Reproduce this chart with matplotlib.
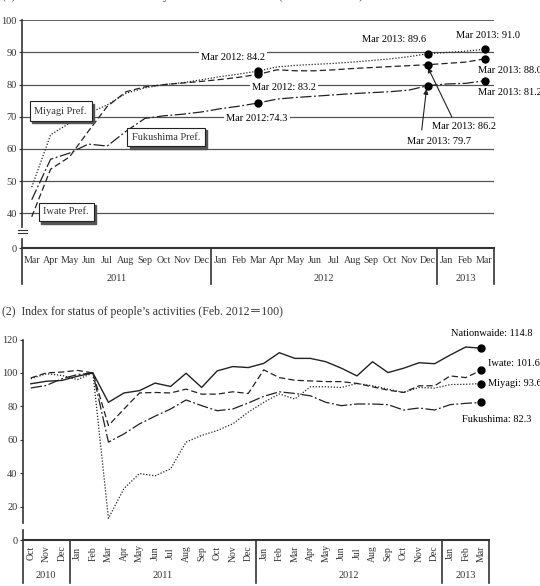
import numpy as np
import matplotlib
matplotlib.use("Agg")
import matplotlib.pyplot as plt
import matplotlib.transforms as mtransforms

plt.rcParams['font.family'] = ['Liberation Serif', 'Noto Sans CJK JP', 'DejaVu Sans']
plt.rcParams['font.size'] = 7.5

# ---- data: (1) basic infrastructure, Mar 2011 - Mar 2013
months1 = ['Mar', 'Apr', 'May', 'Jun', 'Jul', 'Aug', 'Sep', 'Oct', 'Nov', 'Dec',
           'Jan', 'Feb', 'Mar', 'Apr', 'May', 'Jun', 'Jul', 'Aug', 'Sep', 'Oct', 'Nov', 'Dec',
           'Jan', 'Feb', 'Mar']
years1 = ['2011', '2012', '2013']
spans1 = [10, 12, 3]
miyagi1 = [48.1, 64.4, 68.0, 71.0, 73.7, 77.3, 79.0, 80.0, 80.6, 81.5, 82.5, 83.3, 84.2,
           85.5, 86.0, 86.3, 86.6, 87.0, 87.5, 88.0, 88.7, 89.6, 90.0, 90.4, 91.0]
iwate1 = [38.9, 53.7, 57.5, 65.5, 73.2, 77.8, 79.3, 80.0, 80.5, 81.0, 81.6, 82.3, 83.2,
          84.6, 84.3, 84.3, 84.6, 85.0, 85.3, 85.6, 85.9, 86.2, 86.6, 87.0, 88.0]
fukushima1 = [44.2, 56.8, 58.7, 61.5, 60.9, 65.5, 69.5, 70.3, 70.8, 71.5, 72.5, 73.3, 74.3,
              75.5, 76.0, 76.4, 76.8, 77.2, 77.5, 77.8, 78.3, 79.7, 80.2, 80.4, 81.2]
marked1 = [12, 21, 24]

# ---- data: (2) people's activities, Oct 2010 - Mar 2013
months2 = ['Oct', 'Nov', 'Dec',
           'Jan', 'Feb', 'Mar', 'Apr', 'May', 'Jun', 'Jul', 'Aug', 'Sep', 'Oct', 'Nov', 'Dec',
           'Jan', 'Feb', 'Mar', 'Apr', 'May', 'Jun', 'Jul', 'Aug', 'Sep', 'Oct', 'Nov', 'Dec',
           'Jan', 'Feb', 'Mar']
years2 = ['2010', '2011', '2012', '2013']
spans2 = [3, 12, 12, 3]
nation2 = [93.5, 95.0, 95.5, 98.0, 100, 82.4, 88.0, 89.4, 93.9, 91.9, 99.8, 91.3, 101.2, 103.8, 103.2,
           105.7, 112.1, 108.7, 108.7, 106.7, 102.8, 98.2, 106.7, 100.2, 102.8, 106.1, 105.5,
           110.7, 115.5, 114.8]
iwate2 = [97.0, 100.0, 100.5, 101.5, 100, 68.5, 78.4, 88.0, 88.3, 88.0, 90.3, 87.3, 87.3, 88.7, 87.7,
          101.8, 97.2, 95.6, 95.2, 94.8, 94.8, 93.7, 91.7, 89.7, 88.3, 92.3, 92.3,
          98.2, 97.2, 101.6]
miyagi2 = [96.5, 99.5, 98.5, 96.0, 100, 13.0, 30.8, 39.8, 38.4, 42.6, 58.6, 62.6, 65.5, 69.5, 76.5,
           82.4, 87.4, 84.4, 91.7, 91.7, 91.3, 93.7, 92.3, 90.3, 88.3, 91.3, 90.9,
           93.0, 93.2, 93.6]
fukushima2 = [91.0, 92.5, 96.5, 99.0, 100, 58.6, 63.5, 69.5, 74.1, 78.4, 83.8, 80.4, 77.4, 78.4, 82.0,
              86.0, 88.7, 87.7, 86.3, 82.4, 80.4, 81.4, 81.4, 81.0, 77.8, 79.0, 77.8,
              81.0, 81.8, 82.3]

LC = '#222222'
GC = '#555555'
DOT = (0, (1, 1.4))
DASH = (0, (5, 2.5))
DASHDOT = (0, (9, 2, 1.5, 2))

fig = plt.figure(figsize=(5.4, 5.86), dpi=100)


def month_table(ax, months, years, spans, rot, y_m, y_y, y_b, fs_m):
    tr = ax.get_xaxis_transform()
    for i, m in enumerate(months):
        ax.text(i + 0.5, y_m, m, transform=tr, ha='center', va='center',
                rotation=rot, fontsize=fs_m, color='#333')
    edge = 0
    ax.plot([0, 0], [0, y_b], transform=tr, color='#333', lw=1.2, clip_on=False)
    for yr, s in zip(years, spans):
        ax.text(edge + s / 2, y_y, yr, transform=tr, ha='center', va='center', fontsize=7.5, color='#333')
        edge += s
        ax.plot([edge, edge], [0, y_b], transform=tr, color='#333', lw=1.2, clip_on=False)


def pref_box(ax, x, y, txt):
    sh = mtransforms.offset_copy(ax.transData, fig=fig, x=2.5, y=-2.5, units='dots')
    ax.text(x, y, txt, transform=sh, ha='center', va='center', fontsize=7.5, color='#555',
            bbox=dict(boxstyle='square,pad=0.45', fc='#555', ec='#555'), zorder=5)
    ax.text(x, y, txt, ha='center', va='center', fontsize=7.5, color='#333',
            bbox=dict(boxstyle='square,pad=0.45', fc='white', ec=LC, lw=0.8), zorder=6)


# ================= panel (1)
ax1 = fig.add_axes([22.3 / 540, 1 - 248.3 / 586, (494 - 22.3) / 540, (248.3 - 20.3) / 586])
x1 = np.arange(len(months1)) + 0.5
ax1.set_xlim(0, 25)
ax1.set_ylim(29.1, 100)
for v in [40, 50, 60, 70, 80, 90]:
    ax1.axhline(v, color=GC, lw=0.9, zorder=1)
ax1.axhline(100, color='#444', lw=1.2, zorder=1)
for s in ['top', 'right', 'left']:
    ax1.spines[s].set_visible(False)
ax1.spines['bottom'].set_linewidth(1.5)
ax1.spines['bottom'].set_color('#333')
ax1.plot([0, 0], [35.8, 100], color='#333', lw=1.2, clip_on=False)
ax1.plot([0, 0], [29.1, 32.0], color='#333', lw=1.2, clip_on=False)
ax1.plot([-0.25, 0.25], [34.8, 34.8], color='#333', lw=0.8, clip_on=False)
ax1.plot([-0.25, 0.25], [33.8, 33.8], color='#333', lw=0.8, clip_on=False)
ax1.set_yticks([29.1, 40, 50, 60, 70, 80, 90, 100])
ax1.set_yticklabels(['0', '40', '50', '60', '70', '80', '90', '100'])
ax1.tick_params(axis='y', length=2, width=0.8, pad=2, colors='#333')
ax1.set_xticks([])

ax1.plot(x1, miyagi1, color=LC, lw=0.9, linestyle=DOT, zorder=3)
ax1.plot(x1, iwate1, color=LC, lw=0.9, linestyle=DASH, zorder=3)
ax1.plot(x1, fukushima1, color=LC, lw=0.9, linestyle=DASHDOT, zorder=3)
for ser in [miyagi1, iwate1, fukushima1]:
    ax1.plot(x1[marked1], np.array(ser)[marked1], 'o', color='k', ms=5, zorder=4)

wb = dict(fc='white', ec='none', pad=1.5)
ax1.text(11.17, 88.4, 'Mar 2012: 84.2', ha='center', va='center', bbox=wb, zorder=2)
ax1.text(13.85, 79.1, 'Mar 2012: 83.2', ha='center', va='center', bbox=wb, zorder=2)
ax1.text(12.44, 69.5, 'Mar 2012:74.3', ha='center', va='center', bbox=wb, zorder=2)
ax1.text(19.7, 93.9, 'Mar 2013: 89.6', ha='center', va='center')
ax1.text(24.68, 95.4, 'Mar 2013: 91.0', ha='center', va='center')
ax1.text(24.13, 84.5, 'Mar 2013: 88.0', ha='left', va='center')
ax1.text(24.13, 77.5, 'Mar 2013: 81.2', ha='left', va='center')
ax1.text(23.41, 66.9, 'Mar 2013: 86.2', ha='center', va='center')
ax1.text(22.06, 62.4, 'Mar 2013: 79.7', ha='center', va='center')
arw = dict(arrowstyle='-|>', lw=0.8, color=LC, mutation_scale=7, shrinkA=0, shrinkB=0)
ax1.annotate('', xy=(21.5, 85.3), xytext=(22.77, 69.9), arrowprops=arw)
ax1.annotate('', xy=(21.42, 78.6), xytext=(21.17, 65.9), arrowprops=arw)

pref_box(ax1, 2.03, 71.8, 'Miyagi Pref.')
pref_box(ax1, 7.62, 63.7, 'Fukushima Pref.')
pref_box(ax1, 2.32, 40.4, 'Iwate Pref.')

month_table(ax1, months1, years1, spans1, 0, -0.053, -0.132, -0.155, 7.2)

fig.text(0.003, 1 + 1.0 / 586, '(1)  Index for the status of recovery of basic infrastructure (Feb. 2012\uff1d100)',
         ha='left', va='baseline', fontsize=8.5, color='#333')

# ================= panel (2)
ax2 = fig.add_axes([23 / 540, 1 - 540 / 586, 466 / 540, 200.5 / 586])
x2 = np.arange(len(months2)) + 0.5
ax2.set_xlim(0, 30)
ax2.set_ylim(0, 120)
for s in ['top', 'right', 'left']:
    ax2.spines[s].set_visible(False)
ax2.spines['bottom'].set_linewidth(1.5)
ax2.spines['bottom'].set_color('#333')
ax2.plot([0, 0], [10.2, 120], color='#333', lw=1.2, clip_on=False)
ax2.plot([0, 0], [0, 6.0], color='#333', lw=1.2, clip_on=False)
ax2.set_yticks([0, 20, 40, 60, 80, 100, 120])
ax2.tick_params(axis='y', length=2, width=0.8, pad=2, colors='#333')
ax2.set_xticks([])

ax2.plot(x2, nation2, color=LC, lw=1.0, linestyle='-', zorder=3)
ax2.plot(x2, iwate2, color=LC, lw=0.9, linestyle=DASH, zorder=3)
ax2.plot(x2, miyagi2, color=LC, lw=0.9, linestyle=DOT, zorder=3)
ax2.plot(x2, fukushima2, color=LC, lw=0.9, linestyle=DASHDOT, zorder=3)
for ser in [nation2, iwate2, miyagi2, fukushima2]:
    ax2.plot(x2[-1], ser[-1], 'o', color='k', ms=5, zorder=4, clip_on=False)

ax2.text(30.2, 123.3, 'Nationwaide: 114.8', ha='center', va='center')
ax2.text(29.96, 105.8, 'Iwate: 101.6', ha='left', va='center')
ax2.text(29.96, 93.8, 'Miyagi: 93.6', ha='left', va='center')
ax2.text(30.52, 72.4, 'Fukushima: 82.3', ha='center', va='center')

month_table(ax2, months2, years2, spans2, 90, -0.067, -0.178, -0.214, 7.0)

fig.text(0.003, 1 - 311.7 / 586, '(2)  Index for status of people\u2019s activities (Feb. 2012\uff1d100)',
         ha='left', va='center', fontsize=8.5, color='#333')

fig.savefig('out.png', dpi=100)
